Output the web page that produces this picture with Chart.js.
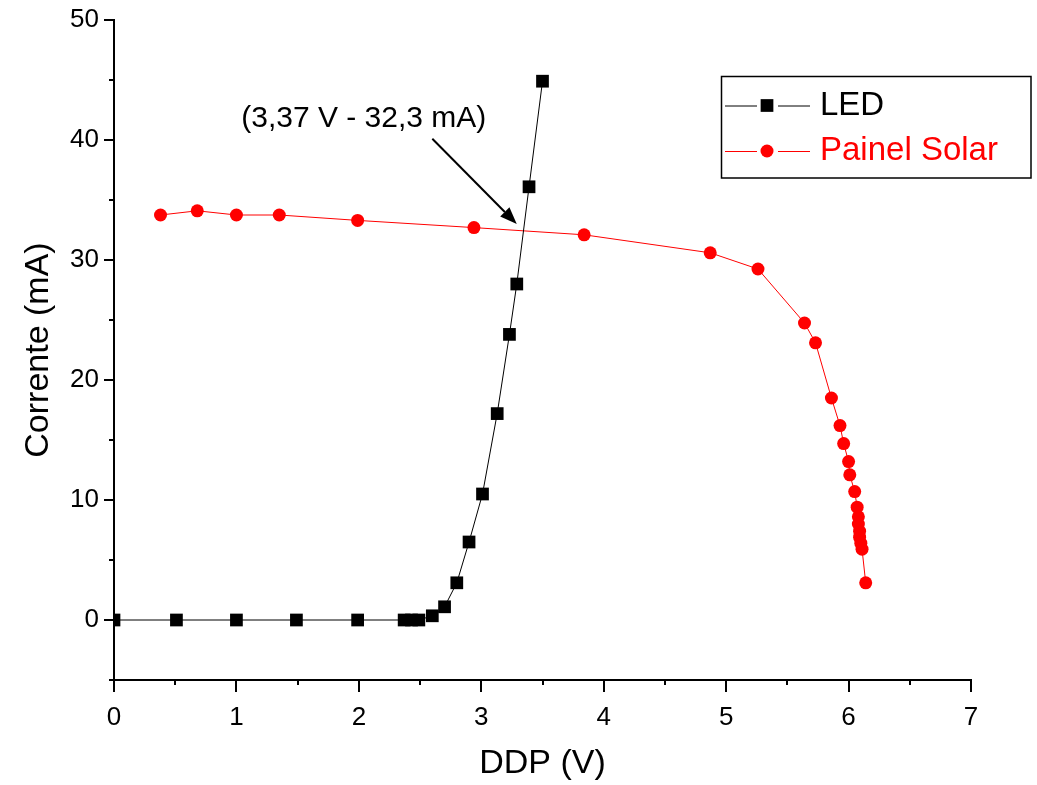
<!DOCTYPE html>
<html>
<head>
<meta charset="utf-8">
<script src="https://cdn.jsdelivr.net/npm/chart.js@4"></script>
<style>
  body { margin: 0; background: #fff; }
  canvas { display: block; }
</style>
</head>
<body>
<canvas id="ivChart" width="1037" height="785"></canvas>
<script>
// LED curve (voltage V, current mA)
var ledV = [0, 0.51, 1.0, 1.49, 1.99, 2.37, 2.43, 2.49, 2.6, 2.7, 2.8, 2.9, 3.01, 3.13, 3.23, 3.29, 3.39, 3.5];
var ledI = [0, 0, 0, 0, 0, 0, 0, 0, 0.35, 1.1, 3.1, 6.5, 10.5, 17.2, 23.8, 28.0, 36.1, 44.9];

// Solar panel curve
var solarV = [0.38, 0.68, 1.0, 1.35, 1.99, 2.94, 3.84, 4.87, 5.26, 5.64, 5.73, 5.86, 5.93, 5.96, 6.0, 6.01, 6.05, 6.07, 6.08, 6.08, 6.09, 6.09, 6.1, 6.11, 6.14];
var solarI = [33.75, 34.1, 33.75, 33.75, 33.3, 32.7, 32.1, 30.6, 29.25, 24.75, 23.1, 18.5, 16.2, 14.7, 13.2, 12.1, 10.7, 9.4, 8.6, 8.0, 7.4, 6.9, 6.4, 5.9, 3.1];

var seriesNames = ["LED", "Painel Solar"];
var xRange = [0, 7];
var yRange = [-5, 50];

// annotation: label position and arrow tail -> tip, in data units
var noteText = "(3,37 V - 32,3 mA)";
var notePos = [2.04, 41.8];
var arrowTail = [2.6, 40.1];
var arrowTip = [3.29, 33.0];

function toPoints(xs, ys) {
  var pts = [];
  for (var i = 0; i < xs.length; i++) pts.push({ x: xs[i], y: ys[i] });
  return pts;
}

// Major / minor tick marks drawn outward
var axisTicks = {
  id: "axisTicks",
  afterDraw: function (chart) {
    var ctx = chart.ctx;
    var xs = chart.scales.x, ys = chart.scales.y;
    ctx.save();
    ctx.strokeStyle = "#000";
    ctx.lineWidth = 2;
    ctx.beginPath();
    xs.ticks.forEach(function (t) {
      var px = Math.round(xs.getPixelForValue(t.value));
      var len = t.value % 1 === 0 ? 12 : 5;
      ctx.moveTo(px, ys.bottom);
      ctx.lineTo(px, ys.bottom + len);
    });
    ys.ticks.forEach(function (t) {
      var py = Math.round(ys.getPixelForValue(t.value));
      var len = t.value % 10 === 0 ? 10 : 5;
      ctx.moveTo(xs.left, py);
      ctx.lineTo(xs.left - len, py);
    });
    ctx.stroke();
    ctx.restore();
  }
};

// Text + arrow annotation
var annotation = {
  id: "annotation",
  afterDatasetsDraw: function (chart) {
    var ctx = chart.ctx;
    var xs = chart.scales.x, ys = chart.scales.y;
    var x0 = xs.getPixelForValue(arrowTail[0]), y0 = ys.getPixelForValue(arrowTail[1]);
    var x1 = xs.getPixelForValue(arrowTip[0]), y1 = ys.getPixelForValue(arrowTip[1]);
    var ang = Math.atan2(y1 - y0, x1 - x0);
    var headLen = 17, headW = 6.5;
    var bx = x1 - headLen * Math.cos(ang), by = y1 - headLen * Math.sin(ang);
    ctx.save();
    ctx.strokeStyle = "#000";
    ctx.fillStyle = "#000";
    ctx.lineWidth = 2;
    ctx.beginPath();
    ctx.moveTo(x0, y0);
    ctx.lineTo(bx, by);
    ctx.stroke();
    ctx.beginPath();
    ctx.moveTo(x1, y1);
    ctx.lineTo(bx + headW * Math.sin(ang), by - headW * Math.cos(ang));
    ctx.lineTo(bx - headW * Math.sin(ang), by + headW * Math.cos(ang));
    ctx.closePath();
    ctx.fill();
    ctx.font = "30px 'Liberation Sans', Arial, sans-serif";
    ctx.textAlign = "center";
    ctx.textBaseline = "middle";
    ctx.fillText(noteText, xs.getPixelForValue(notePos[0]), ys.getPixelForValue(notePos[1]));
    ctx.restore();
  }
};

// Boxed legend in the top right corner
var boxLegend = {
  id: "boxLegend",
  afterDraw: function (chart) {
    var ctx = chart.ctx;
    var left = 721.5, top = 76.5, right = 1031, bottom = 178;
    ctx.save();
    ctx.fillStyle = "#fff";
    ctx.fillRect(left, top, right - left, bottom - top);
    ctx.strokeStyle = "#000";
    ctx.lineWidth = 1.5;
    ctx.strokeRect(left, top, right - left, bottom - top);
    ctx.font = "33px 'Liberation Sans', Arial, sans-serif";
    ctx.textBaseline = "middle";
    ctx.textAlign = "left";
    var rows = [105.5, 151];
    chart.data.datasets.forEach(function (ds, i) {
      var y = rows[i];
      ctx.strokeStyle = ds.borderColor;
      ctx.lineWidth = 1;
      ctx.beginPath();
      ctx.moveTo(725, y + 0.5);
      ctx.lineTo(757, y + 0.5);
      ctx.moveTo(778, y + 0.5);
      ctx.lineTo(810, y + 0.5);
      ctx.stroke();
      ctx.fillStyle = ds.borderColor;
      ctx.beginPath();
      if (ds.pointStyle === "rect") {
        var s = ds.pointRadius * Math.SQRT1_2;
        ctx.rect(767 - s, y - s, 2 * s, 2 * s);
      } else {
        ctx.arc(767, y, ds.pointRadius, 0, Math.PI * 2);
      }
      ctx.fill();
      ctx.fillText(ds.label, 820, y);
    });
    ctx.restore();
  }
};

document.addEventListener("DOMContentLoaded", function () {
  var ctx = document.getElementById("ivChart").getContext("2d");
  new Chart(ctx, {
    type: "scatter",
    data: {
      datasets: [
        {
          label: seriesNames[0],
          data: toPoints(ledV, ledI),
          showLine: true,
          borderColor: "#000",
          backgroundColor: "#000",
          borderWidth: 1,
          pointStyle: "rect",
          pointRadius: 9,
          pointHoverRadius: 9,
          pointBorderWidth: 0,
          tension: 0
        },
        {
          label: seriesNames[1],
          data: toPoints(solarV, solarI),
          showLine: true,
          borderColor: "#ff0000",
          backgroundColor: "#ff0000",
          borderWidth: 1,
          pointStyle: "circle",
          pointRadius: 6.5,
          pointHoverRadius: 6.5,
          pointBorderWidth: 0,
          tension: 0
        }
      ]
    },
    options: {
      responsive: false,
      animation: false,
      layout: { padding: { top: 20, right: 66, left: 0, bottom: 0 } },
      plugins: {
        legend: { display: false },
        tooltip: { enabled: false }
      },
      scales: {
        x: {
          type: "linear",
          min: xRange[0],
          max: xRange[1],
          grid: { drawOnChartArea: false, drawTicks: false },
          border: { display: true, color: "#000", width: 2 },
          ticks: {
            stepSize: 0.5,
            padding: 22,
            color: "#000",
            font: { family: "'Liberation Sans', Arial, sans-serif", size: 26 },
            callback: function (v) { return v % 1 === 0 ? String(v) : ""; }
          },
          title: {
            display: true,
            text: "DDP (V)",
            color: "#000",
            font: { family: "'Liberation Sans', Arial, sans-serif", size: 34 },
            padding: { top: 0, bottom: 1 }
          },
          afterFit: function (scale) {
            scale.height = 105;
            scale.paddingLeft = 0;
            scale.paddingRight = 0;
          }
        },
        y: {
          type: "linear",
          min: yRange[0],
          max: yRange[1],
          grid: { drawOnChartArea: false, drawTicks: false },
          border: { display: true, color: "#000", width: 2 },
          ticks: {
            stepSize: 5,
            padding: 15,
            color: "#000",
            font: { family: "'Liberation Sans', Arial, sans-serif", size: 26 },
            callback: function (v) { return v % 10 === 0 ? String(v) : ""; }
          },
          title: {
            display: true,
            text: "Corrente (mA)",
            color: "#000",
            font: { family: "'Liberation Sans', Arial, sans-serif", size: 34 },
            padding: { top: 18, bottom: 0 }
          },
          afterFit: function (scale) {
            scale.width = 114;
            scale.paddingTop = 0;
            scale.paddingBottom = 0;
          }
        }
      }
    },
    plugins: [axisTicks, annotation, boxLegend]
  });
});
</script>
</body>
</html>
